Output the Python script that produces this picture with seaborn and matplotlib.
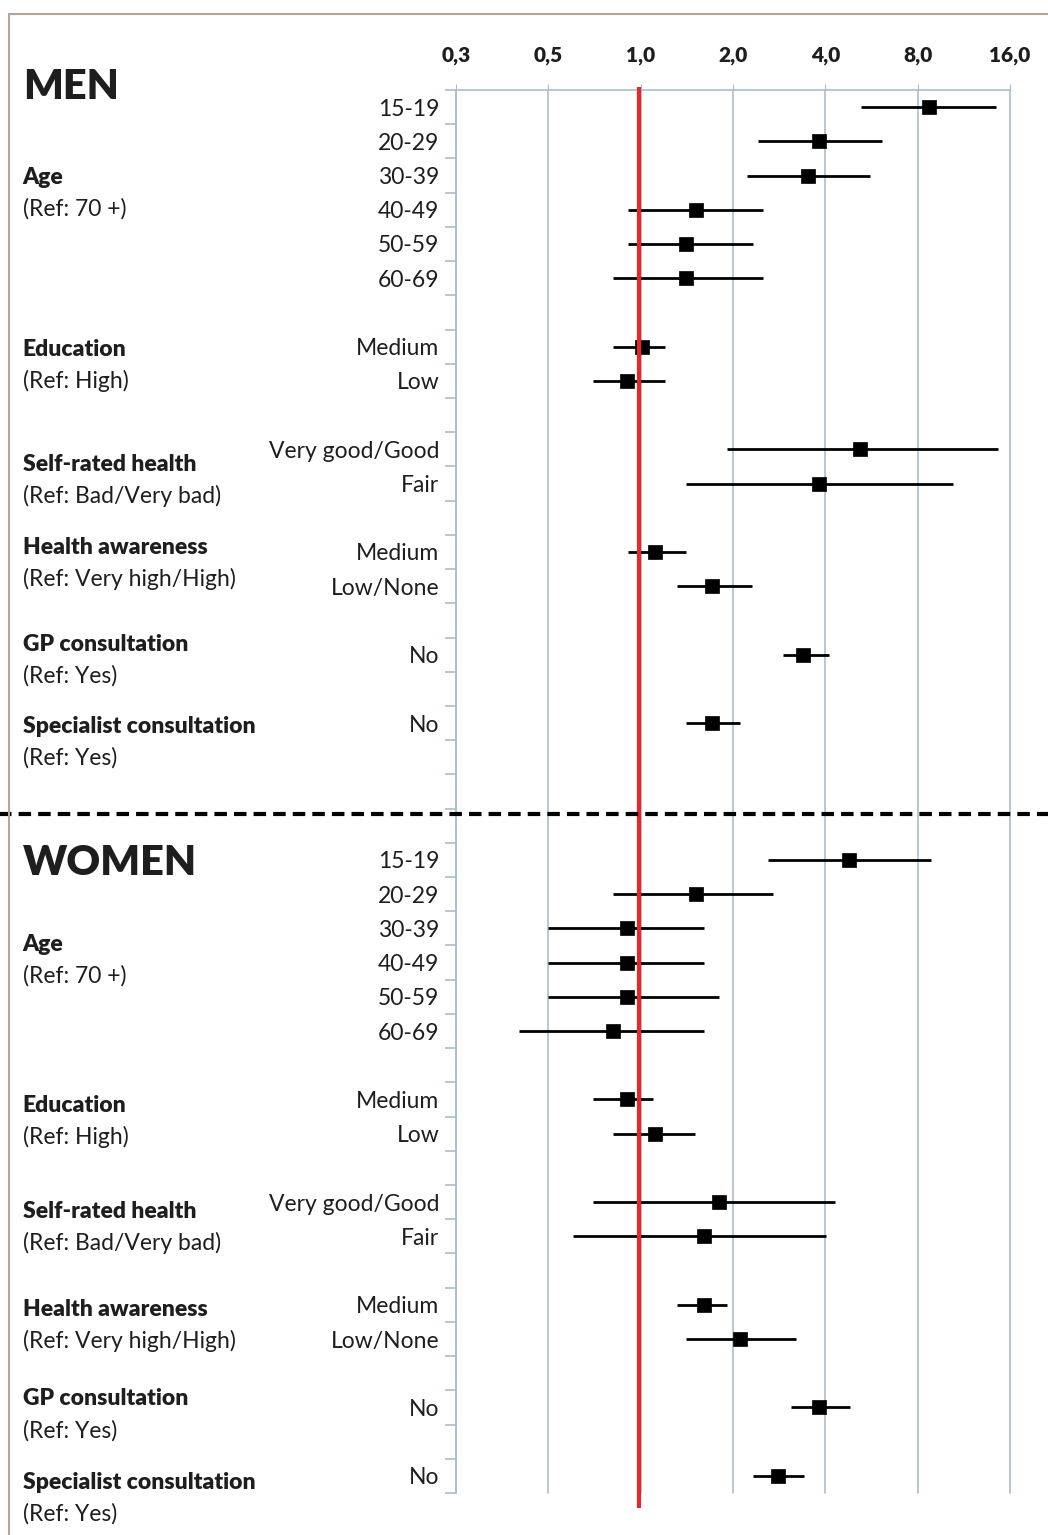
import numpy as np
import pandas as pd
import matplotlib
matplotlib.use("Agg")
import matplotlib.pyplot as plt
import matplotlib.patches as mpatches
import seaborn as sns

# rows of one panel; None marks an empty spacer row
row_labels = ["15-19", "20-29", "30-39", "40-49", "50-59", "60-69", None,
              "Medium", "Low", None,
              "Very good/Good", "Fair", None,
              "Medium", "Low/None", None,
              "No", None,
              "No"]

men_or = [8.7, 3.82, 3.52, 1.52, 1.41, 1.41, 1.01, 0.90, 5.19, 3.82, 1.11, 1.71, 3.38, 1.71]
men_lo = [5.24, 2.42, 2.22, 0.91, 0.91, 0.81, 0.81, 0.70, 1.91, 1.41, 0.91, 1.31, 2.91, 1.41]
men_hi = [14.4, 6.13, 5.6, 2.51, 2.32, 2.51, 1.20, 1.20, 14.6, 10.4, 1.41, 2.31, 4.12, 2.11]

women_or = [4.78, 1.52, 0.90, 0.90, 0.90, 0.81, 0.90, 1.11, 1.80, 1.61, 1.61, 2.11, 3.82, 2.81]
women_lo = [2.60, 0.81, 0.50, 0.50, 0.50, 0.40, 0.70, 0.81, 0.70, 0.60, 1.31, 1.41, 3.09, 2.33]
women_hi = [8.85, 2.70, 1.61, 1.61, 1.80, 1.61, 1.10, 1.50, 4.30, 4.02, 1.91, 3.21, 4.82, 3.41]

sexes = ["MEN", "WOMEN"]
group_titles = ["Age", "Education", "Self-rated health", "Health awareness",
                "GP consultation", "Specialist consultation"]
group_refs = ["(Ref: 70 +)", "(Ref: High)", "(Ref: Bad/Very bad)",
              "(Ref: Very high/High)", "(Ref: Yes)", "(Ref: Yes)"]

x_ticks = [0.25, 0.5, 1, 2, 4, 8, 16]
x_ticklabels = ["0,3", "0,5", "1,0", "2,0", "4,0", "8,0", "16,0"]

# layout
panel_gap = 3
title_rows = {"MEN": [2.05, 7.08, 10.44, 12.87, 15.7, 18.1],
              "WOMEN": [2.47, 7.18, 10.28, 13.15, 15.75, 18.2]}
grid_col = "#a9bfcc"
txt_col = "#1e1e1e"

records = []
for k, (sex, o, lo, hi) in enumerate([("MEN", men_or, men_lo, men_hi),
                                     ("WOMEN", women_or, women_lo, women_hi)]):
    offset = k * (len(row_labels) + panel_gap)
    rows = [offset + i for i, l in enumerate(row_labels) if l]
    labs = [l for l in row_labels if l]
    for r, l, a, b, c in zip(rows, labs, o, lo, hi):
        records.append(dict(sex=sex, pos=r, label=l, OR=a, lo=b, hi=c))
df = pd.DataFrame(records)
n_rows = 2 * len(row_labels) + panel_gap

sns.set_style("white")
plt.rcParams['font.family'] = ['Lato', 'DejaVu Sans']

fig = plt.figure(figsize=(10.48, 15.35), dpi=100)
ax = fig.add_axes([0.4351, 0.02736, 0.5286, 0.91401])

for x in x_ticks:
    ax.axvline(x, color=grid_col, lw=1.2, zorder=0, clip_on=False)

ax.hlines(df["pos"], df["lo"], df["hi"], color="black", lw=2, zorder=2)
sns.scatterplot(data=df, x="OR", y="pos", marker="s", s=105, color="black",
                edgecolor="black", linewidth=0.5, ax=ax, zorder=3, legend=False)

ax.plot([0.985, 0.985], [-0.6, n_rows - 0.05], color="#e8262b", lw=3, zorder=4,
        clip_on=False, solid_capstyle="butt")

ax.set_xscale("log", base=2)
ax.set_xlim(0.25, 16)
ax.set_ylim(n_rows - 0.5, -0.5)
ax.set_xticks(x_ticks)
ax.set_xticklabels(x_ticklabels, fontsize=15, fontweight="heavy", color=txt_col)
ax.xaxis.set_minor_locator(matplotlib.ticker.NullLocator())
ax.xaxis.tick_top()
ax.tick_params(axis="x", top=True, length=4, color=grid_col, pad=14)
ax.set_xlabel("")
ax.set_ylabel("")

ax.set_yticks(df["pos"])
ax.set_yticklabels(df["label"], fontsize=16.5, color=txt_col)
ax.set_yticks(np.arange(-0.5, n_rows, 1), minor=True)
ax.tick_params(axis="y", which="major", left=True, length=0, pad=12)
ax.tick_params(axis="y", which="minor", left=True, length=8, color=grid_col,
               width=1.2, direction="out")

for side in ["bottom", "right"]:
    ax.spines[side].set_visible(False)
for side in ["left", "top"]:
    ax.spines[side].set_color(grid_col)
    ax.spines[side].set_linewidth(1.2)

tr = ax.get_yaxis_transform()
for k, sex in enumerate(sexes):
    offset = k * (len(row_labels) + panel_gap)
    ax.text(-0.782, offset + (-0.58 if k == 0 else 0.1), sex, transform=tr,
            fontsize=30, fontweight="heavy", va="center", ha="left", color=txt_col)
    for t, ref, r in zip(group_titles, group_refs, title_rows[sex]):
        ax.text(-0.782, offset + r, t, transform=tr, fontsize=16.5,
                fontweight="heavy", va="center", ha="left", color=txt_col)
        ax.text(-0.782, offset + r + 0.92, ref, transform=tr, fontsize=16.5,
                va="center", ha="left", color=txt_col)

# dashed separator between the panels
ax.axhline(len(row_labels) + 1.67, xmin=-0.83, xmax=1.08, clip_on=False,
           color="black", lw=3, ls=(0, (3, 1.7)), zorder=5)

fig.add_artist(mpatches.Rectangle((9 / 1048, -0.1), 1.2, 1 - 14 / 1535 + 0.1,
                                  transform=fig.transFigure, fill=False,
                                  edgecolor="#b8a49a", lw=1.5))

fig.savefig("out.png", dpi=100)
